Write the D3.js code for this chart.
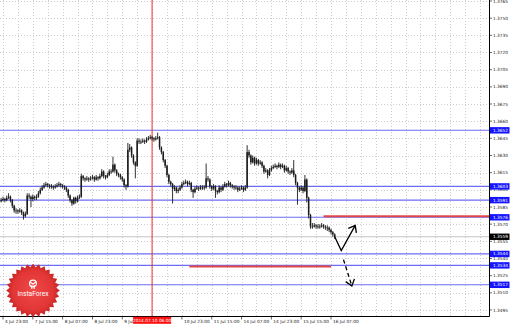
<!DOCTYPE html>
<html>
<head>
<meta charset="utf-8">
<script src="https://cdn.jsdelivr.net/npm/d3@7"></script>
<style>
  body { margin: 0; background: #fff; }
  svg { display: block; font-family: "DejaVu Sans", sans-serif; }
</style>
</head>
<body>
<svg width="510" height="326"></svg>
<script>
// H1 bars, index 0 = 4 Jul 22:00
const firstOpen = 1.3590
const closes = [
  1.3591,1.3592,1.3591,1.3593,1.3594,1.3591,1.3586,1.3582,1.3582,1.3581,
  1.3582,1.3580,1.3577,1.3579,1.3595,1.3594,1.3592,1.3594,1.3593,1.3594,
  1.3597,1.3600,1.3602,1.3604,1.3605,1.3604,1.3603,1.3603,1.3602,1.3603,
  1.3604,1.3605,1.3604,1.3603,1.3602,1.3600,1.3595,1.3591,1.3588,1.3593,
  1.3590,1.3593,1.3594,1.3612,1.3610,1.3609,1.3610,1.3609,1.3610,1.3611,
  1.3609,1.3611,1.3610,1.3612,1.3616,1.3612,1.3611,1.3613,1.3616,1.3616,
  1.3622,1.3617,1.3614,1.3613,1.3611,1.3609,1.3604,1.3603,1.3635,1.3637,
  1.3630,1.3624,1.3621,1.3643,1.3642,1.3642,1.3643,1.3642,1.3644,1.3645,
  1.3646,1.3645,1.3644,1.3645,1.3646,1.3637,1.3633,1.3626,1.3621,1.3613,
  1.3607,1.3605,1.3601,1.3602,1.3599,1.3600,1.3602,1.3605,1.3606,1.3607,
  1.3605,1.3606,1.3600,1.3598,1.3601,1.3602,1.3601,1.3602,1.3602,1.3602,
  1.3610,1.3609,1.3603,1.3601,1.3603,1.3599,1.3598,1.3602,1.3600,1.3603,
  1.3605,1.3604,1.3606,1.3604,1.3603,1.3602,1.3602,1.3600,1.3601,1.3602,
  1.3600,1.3602,1.3633,1.3630,1.3624,1.3628,1.3623,1.3626,1.3623,1.3624,
  1.3621,1.3616,1.3617,1.3613,1.3617,1.3619,1.3620,1.3621,1.3620,1.3622,
  1.3620,1.3621,1.3617,1.3619,1.3616,1.3615,1.3617,1.3613,1.3606,1.3602,
  1.3600,1.3602,1.3599,1.3609,1.3593,1.3578,1.3568,1.3568,1.3569,1.3568,
  1.3568,1.3568,1.3569,1.3568,1.3567,1.3567,1.3565,1.3563,1.3561,1.3559
]
const highs = [
  1.3593,1.3594,1.3593,1.3595,1.3597,1.3595,1.3592,1.3587,1.3584,1.3583,
  1.3584,1.3583,1.3581,1.3581,1.3597,1.3597,1.3595,1.3596,1.3595,1.3596,
  1.3599,1.3602,1.3604,1.3606,1.3607,1.3606,1.3605,1.3605,1.3604,1.3605,
  1.3606,1.3607,1.3606,1.3605,1.3604,1.3603,1.3601,1.3596,1.3592,1.3594,
  1.3594,1.3595,1.3596,1.3614,1.3613,1.3611,1.3612,1.3611,1.3612,1.3613,
  1.3612,1.3613,1.3612,1.3614,1.3618,1.3617,1.3613,1.3615,1.3618,1.3618,
  1.3629,1.3623,1.3618,1.3615,1.3614,1.3612,1.3610,1.3605,1.3641,1.3640,
  1.3638,1.3631,1.3625,1.3645,1.3645,1.3644,1.3645,1.3644,1.3646,1.3647,
  1.3648,1.3647,1.3646,1.3647,1.3650,1.3647,1.3638,1.3634,1.3627,1.3622,
  1.3614,1.3608,1.3606,1.3604,1.3603,1.3602,1.3604,1.3607,1.3608,1.3609,
  1.3608,1.3608,1.3607,1.3601,1.3603,1.3604,1.3603,1.3604,1.3604,1.3604,
  1.3623,1.3612,1.3610,1.3604,1.3605,1.3604,1.3600,1.3604,1.3603,1.3605,
  1.3607,1.3606,1.3608,1.3607,1.3605,1.3604,1.3604,1.3603,1.3603,1.3604,
  1.3603,1.3604,1.3639,1.3635,1.3631,1.3630,1.3629,1.3628,1.3627,1.3626,
  1.3625,1.3622,1.3619,1.3618,1.3619,1.3621,1.3622,1.3623,1.3622,1.3624,
  1.3623,1.3623,1.3622,1.3621,1.3620,1.3617,1.3619,1.3626,1.3614,1.3607,
  1.3603,1.3604,1.3603,1.3613,1.3610,1.3594,1.3579,1.3571,1.3571,1.3570,
  1.3570,1.3570,1.3571,1.3570,1.3569,1.3569,1.3568,1.3566,1.3564,1.3562
]
const lows = [
  1.3589,1.3590,1.3589,1.3590,1.3592,1.3589,1.3584,1.3580,1.3579,1.3579,
  1.3580,1.3578,1.3574,1.3576,1.3578,1.3592,1.3585,1.3590,1.3591,1.3591,
  1.3593,1.3596,1.3599,1.3601,1.3603,1.3602,1.3601,1.3601,1.3600,1.3601,
  1.3602,1.3603,1.3602,1.3601,1.3600,1.3598,1.3593,1.3589,1.3586,1.3587,
  1.3588,1.3589,1.3592,1.3593,1.3608,1.3607,1.3608,1.3607,1.3608,1.3609,
  1.3607,1.3608,1.3608,1.3609,1.3611,1.3610,1.3609,1.3610,1.3612,1.3614,
  1.3615,1.3615,1.3612,1.3611,1.3609,1.3607,1.3602,1.3600,1.3602,1.3633,
  1.3628,1.3622,1.3610,1.3620,1.3640,1.3640,1.3641,1.3640,1.3641,1.3643,
  1.3644,1.3643,1.3642,1.3643,1.3644,1.3635,1.3631,1.3624,1.3619,1.3611,
  1.3605,1.3603,1.3588,1.3599,1.3597,1.3597,1.3599,1.3601,1.3604,1.3605,
  1.3603,1.3604,1.3598,1.3593,1.3597,1.3600,1.3599,1.3600,1.3600,1.3600,
  1.3601,1.3607,1.3601,1.3599,1.3600,1.3593,1.3596,1.3597,1.3598,1.3599,
  1.3602,1.3602,1.3603,1.3602,1.3601,1.3600,1.3600,1.3598,1.3599,1.3600,
  1.3598,1.3599,1.3601,1.3628,1.3622,1.3623,1.3621,1.3622,1.3621,1.3622,
  1.3619,1.3614,1.3615,1.3610,1.3612,1.3616,1.3618,1.3619,1.3618,1.3619,
  1.3618,1.3619,1.3615,1.3616,1.3614,1.3613,1.3614,1.3611,1.3604,1.3587,
  1.3598,1.3599,1.3597,1.3598,1.3589,1.3575,1.3566,1.3566,1.3567,1.3566,
  1.3566,1.3566,1.3567,1.3566,1.3565,1.3564,1.3563,1.3561,1.3559,1.3557
]

const timeLabels = ["4 Jul 23:00","7 Jul 15:00","8 Jul 07:00","8 Jul 23:00","9 Jul 15:00","10 Jul 07:00",
  "10 Jul 23:00","11 Jul 15:00","14 Jul 07:00","14 Jul 23:00","15 Jul 15:00","16 Jul 07:00"]
const priceLabels = ["1.3765","1.3750","1.3735","1.3720","1.3705","1.3690","1.3675","1.3660","1.3645",
  "1.3630","1.3615","1.3600","1.3585","1.3570","1.3555","1.3540","1.3525","1.3510","1.3495"]
const levels = [1.3652, 1.3603, 1.3591, 1.3576, 1.3544, 1.3534, 1.3517]
const bid = 1.3559
const redLevels = [
  {from: 173, to: 262, price: 1.3577},
  {from: 101, to: 177, price: 1.3533}
]
const markerBar = 81
const markerLabel = "2014.07.10 06:00"
const arrowUp = [[179, 1.3559], [182.5, 1.3547], [190, 1.3569]]
const arrowDown = [[183.7, 1.3539], [188.2, 1.3516]]

const plotR = 489.5, plotB = 316

const x = d3.scaleLinear().domain([1, 177]).range([3, 331])
const y = d3.scaleLinear().domain([1.3495, 1.3765]).range([310, 1])

const svg = d3.select("svg")

const defs = svg.append("defs")
defs.append("clipPath").attr("id", "plot")
  .append("rect").attr("x", 0).attr("y", 0).attr("width", plotR).attr("height", plotB)
defs.append("marker")
    .attr("id", "head")
    .attr("markerUnits", "userSpaceOnUse")
    .attr("viewBox", "-8 -6 10 12")
    .attr("markerWidth", 10).attr("markerHeight", 12)
    .attr("refX", 0).attr("refY", 0)
    .attr("orient", "auto")
  .append("path")
    .attr("d", "M-6,-4.6L0,0L-6,4.6")
    .attr("fill", "none").attr("stroke", "#000").attr("stroke-width", 1.3)

const rg = defs.append("radialGradient").attr("id", "logo")
rg.append("stop").attr("offset", "0%").attr("stop-color", "#f04848")
rg.append("stop").attr("offset", "75%").attr("stop-color", "#e23636")
rg.append("stop").attr("offset", "100%").attr("stop-color", "#c42222")

const plot = svg.append("g").attr("clip-path", "url(#plot)")

// grid
const gridX = d3.range(1, 270, 8)
plot.append("g").selectAll("line").data(gridX).join("line")
  .attr("x1", d => Math.round(x(d)) + 0.5).attr("x2", d => Math.round(x(d)) + 0.5)
  .attr("y1", 0).attr("y2", plotB)
  .attr("stroke", "#cdcdcd").attr("stroke-dasharray", "1,2")
plot.append("g").selectAll("line").data(priceLabels).join("line")
  .attr("x1", 0).attr("x2", plotR)
  .attr("y1", d => Math.round(y(+d)) + 0.5).attr("y2", d => Math.round(y(+d)) + 0.5)
  .attr("stroke", "#cdcdcd").attr("stroke-dasharray", "1,2")

// bid line
plot.append("line")
  .attr("x1", 0).attr("x2", plotR)
  .attr("y1", y(bid)).attr("y2", y(bid))
  .attr("stroke", "#c4c4c4")

// blue levels
plot.append("g").selectAll("line").data(levels).join("line")
  .attr("x1", 0).attr("x2", plotR)
  .attr("y1", d => y(d)).attr("y2", d => y(d))
  .attr("stroke", "#6d6df2").attr("stroke-width", 1.1)

// red zones
plot.append("g").selectAll("line").data(redLevels).join("line")
  .attr("x1", d => x(d.from)).attr("x2", d => x(d.to))
  .attr("y1", d => y(d.price)).attr("y2", d => y(d.price))
  .attr("stroke", "#e04848").attr("stroke-width", 2)

// vertical marker
plot.append("line")
  .attr("x1", x(markerBar)).attr("x2", x(markerBar))
  .attr("y1", 0).attr("y2", plotB)
  .attr("stroke", "#f03030").attr("stroke-width", 1)

// bars
const bars = closes.map((c, i) => ({
  i, o: i ? closes[i - 1] : firstOpen, h: highs[i], l: lows[i], c
}))
const barG = plot.append("g").selectAll("g").data(bars).join("g")
barG.append("line")
  .attr("x1", d => x(d.i)).attr("x2", d => x(d.i))
  .attr("y1", d => y(d.h)).attr("y2", d => y(d.l))
  .attr("stroke", "#1a1a1a").attr("stroke-width", 0.9)
barG.append("rect")
  .attr("x", d => x(d.i) - 0.75).attr("width", 1.5)
  .attr("y", d => y(Math.max(d.o, d.c)))
  .attr("height", d => Math.max(0.8, Math.abs(y(d.o) - y(d.c))))
  .attr("fill", "#1a1a1a")

// arrows
const line = d3.line().x(d => x(d[0])).y(d => y(d[1]))
plot.append("path").datum(arrowUp)
  .attr("d", line).attr("fill", "none")
  .attr("stroke", "#000").attr("stroke-width", 1.3)
  .attr("marker-end", "url(#head)")
plot.append("path").datum(arrowDown)
  .attr("d", line).attr("fill", "none")
  .attr("stroke", "#000").attr("stroke-width", 1.3)
  .attr("stroke-dasharray", "4,3")
  .attr("marker-end", "url(#head)")

// frame
svg.append("line").attr("x1", plotR).attr("x2", plotR).attr("y1", 0).attr("y2", plotB + 0.5)
  .attr("stroke", "#000")
svg.append("line").attr("x1", 0).attr("x2", plotR).attr("y1", plotB + 0.5).attr("y2", plotB + 0.5)
  .attr("stroke", "#000")

// price axis
const pa = svg.append("g").attr("font-size", 4.3).attr("fill", "#222")
pa.selectAll("line").data(priceLabels).join("line")
  .attr("x1", plotR).attr("x2", plotR + 2.5)
  .attr("y1", d => y(+d)).attr("y2", d => y(+d))
  .attr("stroke", "#000").attr("stroke-width", 0.6)
pa.selectAll("text").data(priceLabels).join("text")
  .attr("x", 493).attr("y", d => y(+d)).attr("dy", "0.35em")
  .text(d => d)

const boxes = levels.map(v => ({v, fill: "#1414ff"})).concat([{v: bid, fill: "#000"}])
const bx = svg.append("g").selectAll("g").data(boxes).join("g")
  .attr("transform", d => `translate(${plotR + 0.5},${y(d.v)})`)
bx.append("rect").attr("x", 0).attr("y", -3.2).attr("width", 19.5).attr("height", 6.4)
  .attr("fill", d => d.fill)
bx.append("text").attr("x", 3).attr("dy", "0.35em")
  .attr("font-size", 4.3).attr("fill", "#fff")
  .text(d => d.v.toFixed(4))

// time axis (the label under the marker box is hidden, as in the terminal)
const ticks = timeLabels.map((t, k) => ({t, bar: 1 + 16 * k}))
const ta = svg.append("g").attr("font-size", 4.3).attr("fill", "#222")
ta.selectAll("line").data(ticks).join("line")
  .attr("x1", d => x(d.bar)).attr("x2", d => x(d.bar))
  .attr("y1", plotB).attr("y2", plotB + 3.5)
  .attr("stroke", "#000").attr("stroke-width", 0.6)
ta.selectAll("text").data(ticks.filter(d => Math.abs(d.bar - markerBar) > 8)).join("text")
  .attr("x", d => x(d.bar) + 2).attr("y", plotB + 6.5)
  .text(d => d.t)

const mk = svg.append("g").attr("transform", `translate(${x(markerBar)},${plotB + 4.2})`)
mk.append("rect").attr("x", -19).attr("y", -3.4).attr("width", 38).attr("height", 7)
  .attr("fill", "#ff1010")
mk.append("text").attr("text-anchor", "middle").attr("dy", "0.35em")
  .attr("font-size", 4.3).attr("fill", "#fff").text(markerLabel)

// InstaForex badge
const teeth = 28
const star = d3.lineRadial().curve(d3.curveLinearClosed)
  .angle(d => d[0]).radius(d => d[1])
const pts = d3.range(teeth * 2).map(k => [k * Math.PI / teeth, k % 2 ? 23.5 : 26.8])
const logo = svg.append("g").attr("transform", "translate(33,290.5)")
logo.append("path").attr("d", star(pts)).attr("fill", "url(#logo)")
logo.append("circle").attr("cy", -7).attr("r", 3.4).attr("fill", "none")
  .attr("stroke", "#fff").attr("stroke-width", 1.2)
logo.append("path").attr("d", "M-1.2,-5.5V-1.5M1.2,-5.5V-1.5M-3,-8.5L0,-6.5L3,-8.5")
  .attr("stroke", "#fff").attr("stroke-width", 1.1).attr("fill", "none")
logo.append("text").attr("y", 3.2).attr("dy", "0.35em").attr("text-anchor", "middle")
  .attr("font-size", 6.6).attr("fill", "#fff").attr("font-family", "Roboto, sans-serif")
  .text("InstaForex")
</script>
</body>
</html>
